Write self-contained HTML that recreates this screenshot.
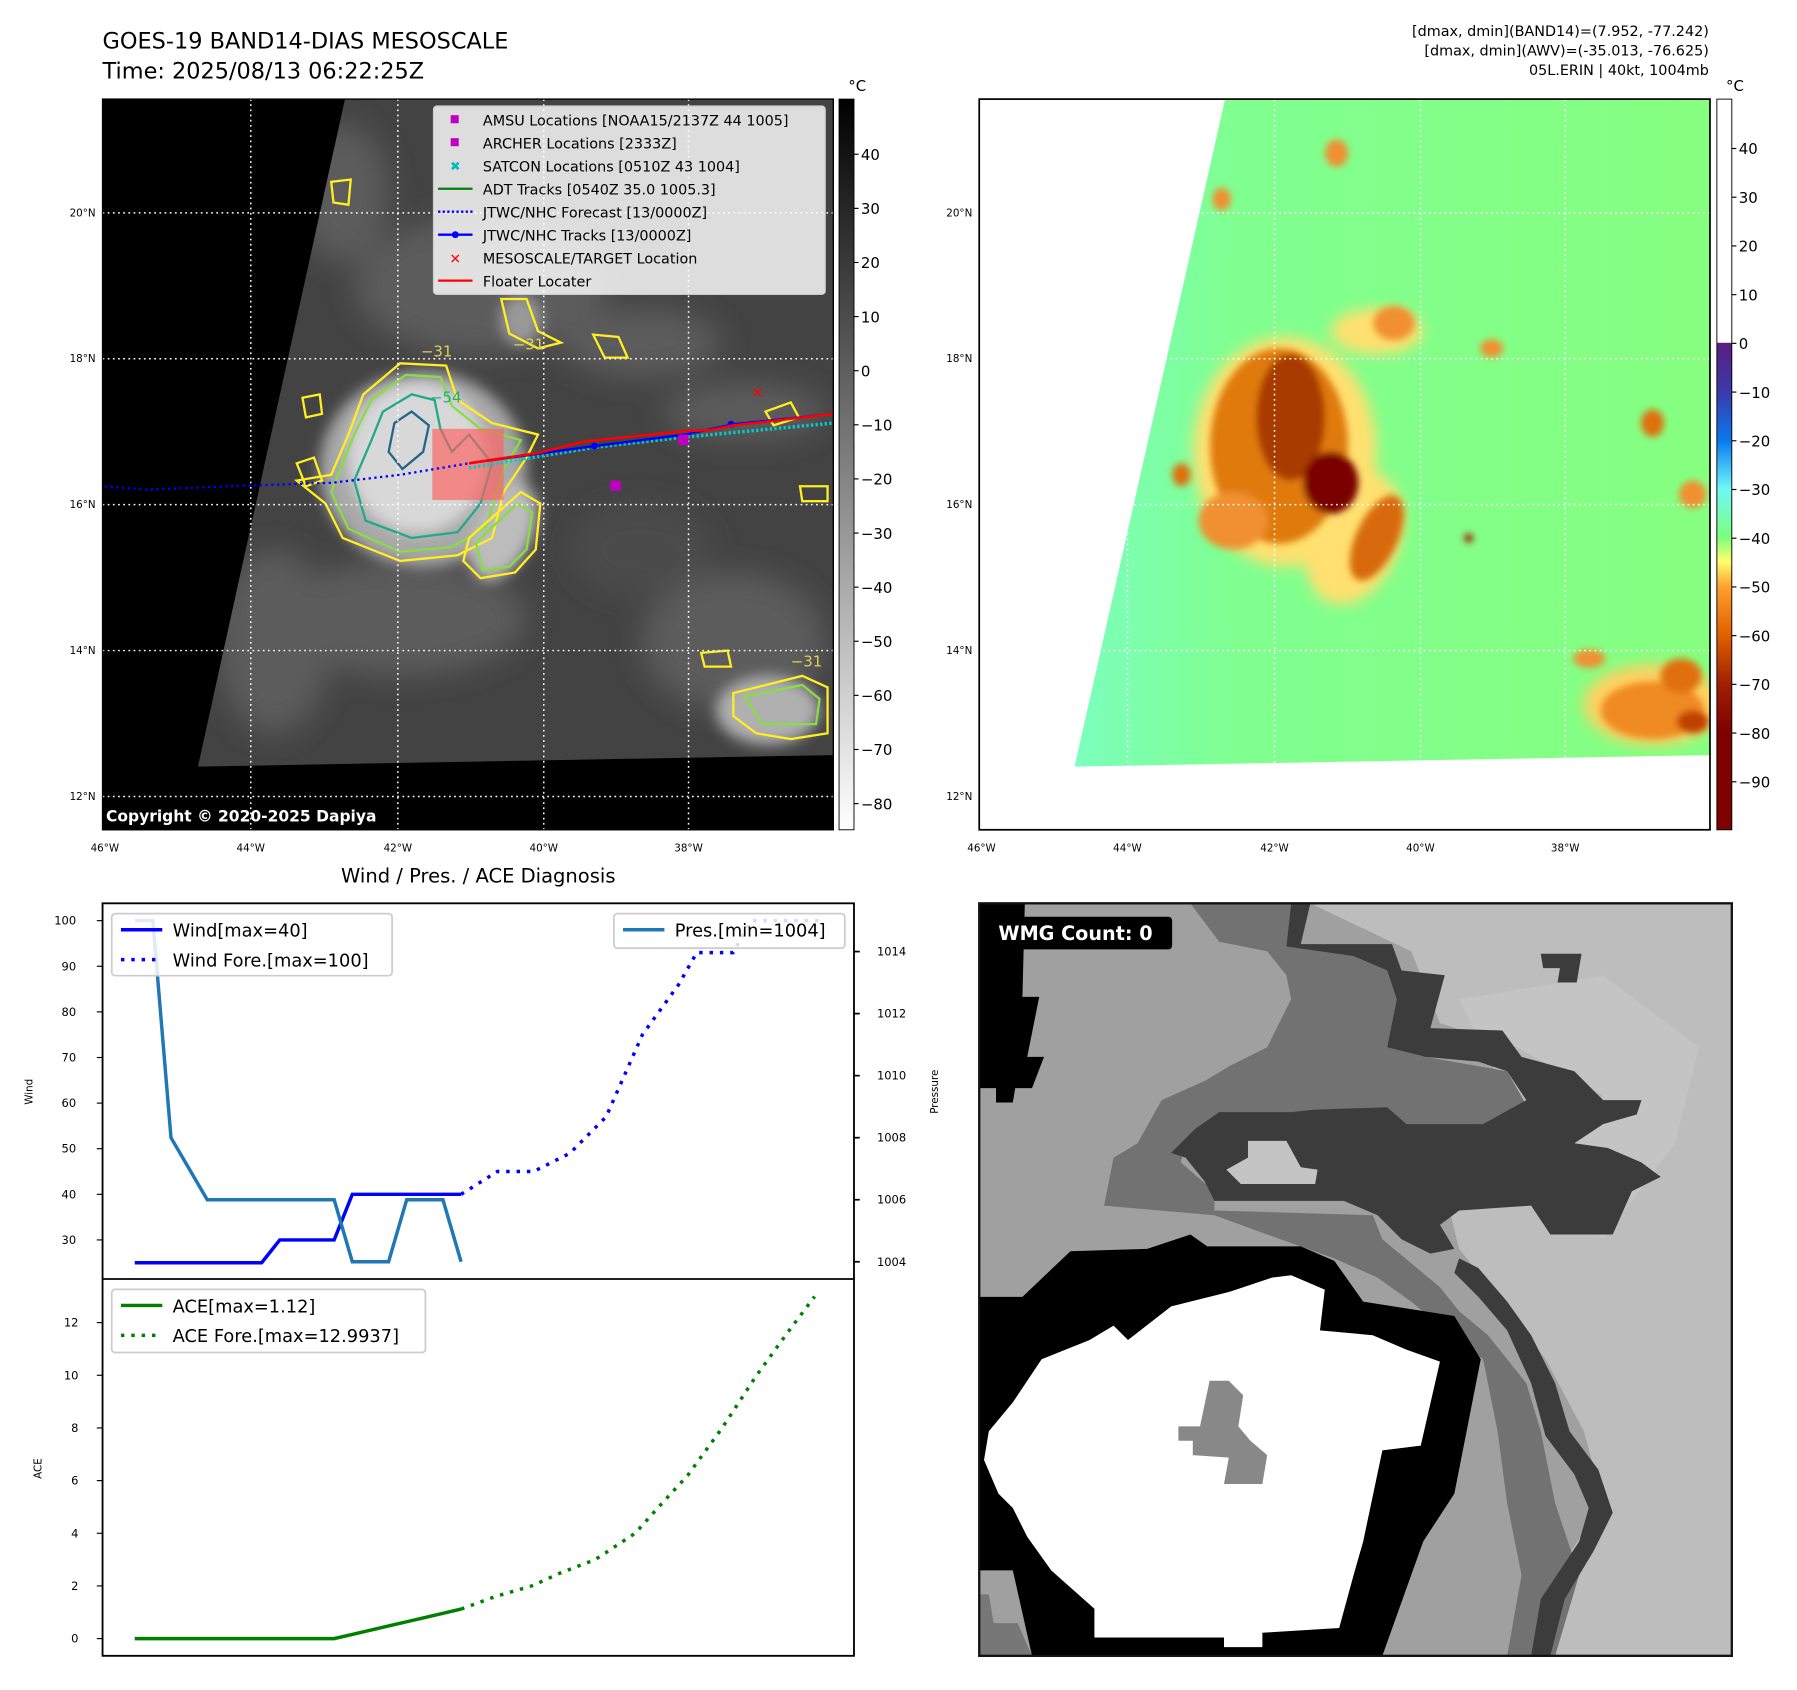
<!DOCTYPE html>
<html><head><meta charset="utf-8"><style>
html,body{margin:0;padding:0;background:#fff;}
svg{display:block;font-family:"DejaVu Sans","Liberation Sans",sans-serif;}
</style></head><body>
<svg id="fig" width="1797" height="1690" viewBox="1.74 1.74 1564 1471" preserveAspectRatio="none" xmlns="http://www.w3.org/2000/svg">
<defs>
<filter id="blur3"><feGaussianBlur stdDeviation="3"/></filter>
<filter id="blur6"><feGaussianBlur stdDeviation="6"/></filter>
<filter id="blur12"><feGaussianBlur stdDeviation="12"/></filter>
<linearGradient id="cb1" x1="0" y1="0" x2="0" y2="1"><stop offset="0" stop-color="#000"/><stop offset="1" stop-color="#fff"/></linearGradient>
<linearGradient id="cb2" x1="0" y1="0" x2="0" y2="1">
<stop offset="0" stop-color="#fff"/><stop offset="0.333" stop-color="#fff"/><stop offset="0.334" stop-color="#5a1e82"/>
<stop offset="0.40" stop-color="#3a3aa8"/><stop offset="0.467" stop-color="#0a78f0"/><stop offset="0.533" stop-color="#6ff8f8"/>
<stop offset="0.60" stop-color="#7cff7c"/><stop offset="0.633" stop-color="#ffff70"/><stop offset="0.667" stop-color="#ffa030"/>
<stop offset="0.733" stop-color="#e06000"/><stop offset="0.80" stop-color="#a02000"/><stop offset="0.867" stop-color="#800000"/><stop offset="1" stop-color="#800000"/></linearGradient>
<linearGradient id="seaR" x1="0" y1="0" x2="1" y2="0"><stop offset="0" stop-color="#78ffd8"/><stop offset="0.35" stop-color="#80ff90"/><stop offset="1" stop-color="#86ff80"/></linearGradient>
<clipPath id="clipL"><polygon points="302,88 174,669 727,659 727,88"/></clipPath>
<clipPath id="clipR"><polygon points="1068,88 937,669 1490,659 1490,88"/></clipPath>
<clipPath id="clipTop"><rect x="91" y="788" width="654" height="327"/></clipPath>
<clipPath id="clipBot"><rect x="91" y="1115" width="654" height="328"/></clipPath>
<clipPath id="clipBR"><rect x="854" y="788" width="655" height="655"/></clipPath>
</defs>

<!-- header -->
<text x="91" y="44" font-size="19.5">GOES-19 BAND14-DIAS MESOSCALE</text>
<text x="91" y="70" font-size="19.5">Time: 2025/08/13 06:22:25Z</text>
<g font-size="12.5" text-anchor="end">
<text x="1489" y="33">[dmax, dmin](BAND14)=(7.952, -77.242)</text>
<text x="1489" y="50">[dmax, dmin](AWV)=(-35.013, -76.625)</text>
<text x="1489" y="67">05L.ERIN | 40kt, 1004mb</text>
</g>

<!-- LEFT MAP -->
<g>
<rect x="91" y="88" width="636" height="636" fill="#000"/>
<g clip-path="url(#clipL)">
<rect x="91" y="88" width="636" height="636" fill="#434343"/>
<g filter="url(#blur12)" fill="#5c5c5c">
<ellipse cx="420" cy="250" rx="110" ry="60"/><ellipse cx="560" cy="300" rx="70" ry="30"/>
<ellipse cx="350" cy="540" rx="110" ry="50"/><ellipse cx="640" cy="560" rx="80" ry="60"/>
<ellipse cx="240" cy="560" rx="50" ry="80"/><ellipse cx="650" cy="360" rx="70" ry="25"/>
<ellipse cx="300" cy="170" rx="40" ry="60"/><ellipse cx="560" cy="480" rx="60" ry="40" fill="#4c4c4c"/>
</g>
<g filter="url(#blur6)">
<ellipse cx="370" cy="410" rx="90" ry="85" fill="#a8a8a8"/>
<ellipse cx="365" cy="400" rx="60" ry="65" fill="#d8d8d8"/>
<ellipse cx="440" cy="465" rx="25" ry="45" fill="#bcbcbc" transform="rotate(25 440 465)"/>
<ellipse cx="670" cy="620" rx="45" ry="30" fill="#b0b0b0"/>
<ellipse cx="455" cy="280" rx="18" ry="22" fill="#999"/>
</g>
<g fill="none" stroke-width="2">
<path d="M318,345 L350,318 L390,320 L400,350 L430,370 L470,380 L460,400 L440,430 L430,470 L400,485 L350,490 L300,470 L285,440 L260,420 L290,415 L305,380 Z" stroke="#ffee22"/>
<path d="M325,350 L355,328 L385,330 L395,355 L420,375 L455,385 L440,410 L425,460 L395,478 L350,482 L305,462 L290,430 L310,380 Z" stroke="#88dd44"/>
<path d="M335,360 L360,345 L380,350 L385,375 L395,395 L410,380 L430,405 L420,440 L400,465 L360,470 L320,455 L310,420 L325,385 Z" stroke="#22aa88"/>
<path d="M345,370 L360,360 L375,372 L370,395 L352,410 L340,395 Z" stroke="#226688"/>
<path d="M410,470 L455,430 L472,440 L468,480 L450,500 L420,505 L405,490 Z" stroke="#ffee22"/>
<path d="M416,474 L452,440 L465,448 L460,480 L445,495 L422,498 Z" stroke="#88dd44"/>
<path d="M438,262 L460,262 L470,290 L490,300 L470,305 L445,292 Z" stroke="#ffee22"/>
<path d="M518,293 L540,295 L548,313 L528,313 Z" stroke="#ffee22"/>
<path d="M612,570 L635,568 L638,582 L615,582 Z" stroke="#ffee22"/>
<path d="M640,605 L700,590 L722,600 L722,640 L690,645 L660,640 L640,625 Z" stroke="#ffee22"/>
<path d="M650,608 L700,598 L715,610 L712,632 L665,632 Z" stroke="#88dd44"/>
<path d="M698,425 L722,425 L722,438 L700,438 Z" stroke="#ffee22"/>
<path d="M668,360 L690,352 L697,365 L675,372 Z" stroke="#ffee22"/>
<path d="M265,348 L280,345 L282,362 L268,365 Z" stroke="#ffee22"/>
<path d="M260,405 L275,400 L282,420 L268,425 Z" stroke="#ffee22"/>
<path d="M290,160 L307,158 L305,180 L292,178 Z" stroke="#ffee22"/>
</g>
<g font-size="13" fill="#ddd05a"><text x="368" y="312">−31</text><text x="448" y="306">−31</text><text x="376" y="352" fill="#22aa88">−54</text><text x="690" y="582">−31</text></g>
<rect x="378" y="375" width="62" height="62" fill="#ff6060" fill-opacity="0.65"/>
</g>
<g stroke="#fff" stroke-width="1.3" stroke-dasharray="1.5,3">
<line x1="220" y1="88" x2="220" y2="724"/><line x1="348" y1="88" x2="348" y2="724"/><line x1="475" y1="88" x2="475" y2="724"/><line x1="601" y1="88" x2="601" y2="724"/>
<line x1="91" y1="187" x2="727" y2="187"/><line x1="91" y1="314" x2="727" y2="314"/><line x1="91" y1="441" x2="727" y2="441"/><line x1="91" y1="568" x2="727" y2="568"/><line x1="91" y1="695" x2="727" y2="695"/>
</g>
<polyline points="410,405 520,387 600,378 727,366" fill="none" stroke="#00cccc" stroke-width="3" stroke-dasharray="2,2" transform="translate(0,4)"/>
<polyline points="93,425 130,428 200,425 290,422 350,415 410,405" fill="none" stroke="#0000ff" stroke-width="2" stroke-dasharray="2,3"/>
<polyline points="410,405 519,390 598,380 640,371 727,362" fill="none" stroke="#0000ff" stroke-width="2"/>
<g fill="#0000ff"><circle cx="519" cy="390" r="3"/><circle cx="638" cy="371" r="3"/></g>
<polyline points="410,405 470,396 510,386 598,377 620,376 640,372 727,362" fill="none" stroke="#ff0000" stroke-width="2.2"/>
<g fill="#c000c0"><rect x="592" y="380" width="9" height="9"/><rect x="533" y="420" width="9" height="9"/></g>
<text x="661" y="348" fill="#ff0000" font-size="13" font-weight="bold" text-anchor="middle">✕</text>
<rect x="91" y="88" width="636" height="636" fill="none" stroke="#000" stroke-width="1.2"/>
<text x="94" y="717" fill="#fff" font-size="13.5" font-weight="bold">Copyright © 2020-2025 Dapiya</text>
</g>

<!-- legend left map -->
<g font-size="12.5">
<rect x="379" y="94" width="341" height="164" rx="3" fill="#fff" fill-opacity="0.82" stroke="#ccc"/>
<rect x="394" y="102" width="7" height="7" fill="#c000c0"/><text x="422" y="111">AMSU Locations [NOAA15/2137Z 44 1005]</text>
<rect x="394" y="122" width="7" height="7" fill="#c000c0"/><text x="422" y="131">ARCHER Locations [2333Z]</text>
<text x="398" y="150" font-size="11" fill="#00bbbb" text-anchor="middle">✖</text><text x="422" y="151">SATCON Locations [0510Z 43 1004]</text>
<line x1="383" y1="166" x2="413" y2="166" stroke="#008000" stroke-width="2"/><text x="422" y="171">ADT Tracks [0540Z 35.0 1005.3]</text>
<line x1="383" y1="186" x2="413" y2="186" stroke="#0000ff" stroke-width="2" stroke-dasharray="2,2"/><text x="422" y="191">JTWC/NHC Forecast [13/0000Z]</text>
<line x1="383" y1="206" x2="413" y2="206" stroke="#0000ff" stroke-width="2"/><circle cx="398" cy="206" r="3" fill="#0000ff"/><text x="422" y="211">JTWC/NHC Tracks [13/0000Z]</text>
<text x="398" y="231" font-size="12" fill="#f00" font-weight="bold" text-anchor="middle">✕</text><text x="422" y="231">MESOSCALE/TARGET Location</text>
<line x1="383" y1="246" x2="413" y2="246" stroke="#ff0000" stroke-width="2"/><text x="422" y="251">Floater Locater</text>
</g>

<!-- map axis labels -->
<g font-size="9" text-anchor="end">
<text x="85" y="190">20°N</text><text x="85" y="317">18°N</text><text x="85" y="444">16°N</text><text x="85" y="571">14°N</text><text x="85" y="698">12°N</text>
</g>
<g font-size="9" text-anchor="middle">
<text x="93" y="743">46°W</text><text x="220" y="743">44°W</text><text x="348" y="743">42°W</text><text x="475" y="743">40°W</text><text x="601" y="743">38°W</text>
</g>
<!-- colorbar 1 -->
<g>
<rect x="732" y="88" width="13" height="636" fill="url(#cb1)" stroke="#000" stroke-width="0.8"/>
<text x="740" y="81" font-size="13">°C</text>
<g id="cb1ticks" font-size="13"></g>
</g>

<!-- RIGHT MAP -->
<g>
<rect x="854" y="88" width="636" height="636" fill="#fff"/>
<g clip-path="url(#clipR)">
<rect x="854" y="88" width="636" height="636" fill="url(#seaR)"/>
<g filter="url(#blur6)">
<ellipse cx="1200" cy="290" rx="40" ry="20" fill="#ffe070"/>
<ellipse cx="1120" cy="395" rx="80" ry="100" fill="#ffe070"/>
<ellipse cx="1180" cy="470" rx="40" ry="60" fill="#ffe070" transform="rotate(20 1180 470)"/>
<ellipse cx="1440" cy="615" rx="60" ry="35" fill="#ffd060"/>
</g>
<g filter="url(#blur3)">
<ellipse cx="1115" cy="390" rx="60" ry="85" fill="#e07a10"/>
<ellipse cx="1075" cy="455" rx="30" ry="25" fill="#f09030"/>
<ellipse cx="1125" cy="365" rx="30" ry="55" fill="#a83a00"/>
<ellipse cx="1200" cy="470" rx="18" ry="40" fill="#d86a10" transform="rotate(25 1200 470)"/>
<ellipse cx="1160" cy="422" rx="24" ry="27" fill="#7a0000"/>
<ellipse cx="1215" cy="283" rx="18" ry="15" fill="#f09030"/>
<ellipse cx="1440" cy="620" rx="45" ry="25" fill="#f08a20"/>
<ellipse cx="1465" cy="590" rx="18" ry="15" fill="#e07010"/>
<ellipse cx="1475" cy="630" rx="14" ry="10" fill="#c04000"/>
<ellipse cx="1385" cy="575" rx="14" ry="8" fill="#f09030"/>
<ellipse cx="1440" cy="370" rx="10" ry="12" fill="#e07010"/>
<ellipse cx="1475" cy="432" rx="12" ry="12" fill="#f09030"/>
<ellipse cx="1030" cy="415" rx="8" ry="10" fill="#e07010"/>
<ellipse cx="1165" cy="135" rx="10" ry="12" fill="#f09030"/>
<ellipse cx="1065" cy="175" rx="8" ry="10" fill="#f09030"/>
<ellipse cx="1280" cy="470" rx="4" ry="4" fill="#a02000"/>
<ellipse cx="1300" cy="305" rx="10" ry="8" fill="#f09030"/>
</g>
</g>
<g stroke="#fff" stroke-width="1.3" stroke-dasharray="1.5,3">
<line x1="983" y1="88" x2="983" y2="724"/><line x1="1111" y1="88" x2="1111" y2="724"/><line x1="1238" y1="88" x2="1238" y2="724"/><line x1="1364" y1="88" x2="1364" y2="724"/>
<line x1="854" y1="187" x2="1490" y2="187"/><line x1="854" y1="314" x2="1490" y2="314"/><line x1="854" y1="441" x2="1490" y2="441"/><line x1="854" y1="568" x2="1490" y2="568"/><line x1="854" y1="695" x2="1490" y2="695"/>
</g>
<rect x="854" y="88" width="636" height="636" fill="none" stroke="#000" stroke-width="1.5"/>
</g>
<g font-size="9" text-anchor="end">
<text x="848" y="190">20°N</text><text x="848" y="317">18°N</text><text x="848" y="444">16°N</text><text x="848" y="571">14°N</text><text x="848" y="698">12°N</text>
</g>
<g font-size="9" text-anchor="middle">
<text x="856" y="743">46°W</text><text x="983" y="743">44°W</text><text x="1111" y="743">42°W</text><text x="1238" y="743">40°W</text><text x="1364" y="743">38°W</text>
</g>
<g>
<rect x="1496" y="88" width="13" height="636" fill="url(#cb2)" stroke="#000" stroke-width="0.8"/>
<text x="1504" y="81" font-size="13">°C</text>
<g id="cb2ticks" font-size="13"></g>
</g>

<!-- BOTTOM LEFT CHART -->
<text x="418" y="770" font-size="17" text-anchor="middle">Wind / Pres. / ACE Diagnosis</text>
<g id="chart"></g>

<!-- BOTTOM RIGHT PANEL -->
<g clip-path="url(#clipBR)">
<g transform="translate(854,788) scale(0.4177)">
<rect x="0" y="0" width="1568" height="1568" fill="#a0a0a0"/>
<polygon fill="#bdbdbd" points="690,0 1568,0 1568,1568 1140,1568 1200,1400 1300,1250 1260,1100 1180,950 1080,820 1000,720 980,640 1130,620 1240,500 1300,400 1120,300 960,250 900,100"/>
<polygon fill="#c8c8c8" points="1000,200 1300,150 1500,300 1450,500 1300,700 1200,600" opacity="0.6"/>
<polygon fill="#727272" points="440,0 650,0 640,90 780,110 850,140 870,200 850,300 930,320 1100,350 1140,420 1050,460 880,470 700,440 520,440 430,500 420,540 490,600 490,640 820,650 840,700 900,750 960,800 1000,850 1060,900 1140,1000 1170,1100 1200,1250 1250,1400 1200,1568 1100,1568 1130,1400 1100,1250 1080,1100 1050,950 960,880 900,830 830,780 740,740 600,690 490,650 260,630 280,530 330,500 380,410 470,370 520,340 600,300 650,200 640,150 600,100 500,80"/>
<polygon fill="#3c3c3c" points="650,0 690,0 670,85 860,85 880,140 970,150 940,260 1090,265 1130,320 1240,350 1300,410 1380,410 1370,440 1300,460 1240,500 1310,510 1380,540 1420,570 1360,600 1320,690 1190,690 1150,630 1000,640 960,670 990,720 940,730 880,700 830,650 760,620 490,620 470,580 430,530 400,520 450,470 500,435 650,435 700,430 850,425 890,460 1050,460 1140,410 1100,350 1040,330 930,320 850,300 870,200 850,140 780,110 640,90"/>
<polygon fill="#3c3c3c" points="1170,105 1255,105 1245,165 1205,165 1210,135 1175,135"/>
<polygon fill="#c4c4c4" points="560,495 640,495 670,550 705,555 700,585 545,585 515,555 560,530"/>
<polygon fill="#000" points="0,0 95,0 90,195 125,195 100,320 135,320 110,385 75,385 70,415 35,415 35,385 0,385"/>
<polygon fill="#3c3c3c" points="1000,740 1040,760 1100,830 1150,900 1200,1000 1230,1100 1290,1180 1320,1270 1280,1350 1220,1450 1190,1568 1150,1568 1170,1450 1250,1330 1270,1260 1240,1190 1180,1110 1150,1000 1100,890 1040,820 990,770"/>
<polygon fill="#000" points="0,820 90,820 190,725 350,720 440,690 475,715 670,715 740,745 800,830 990,860 1045,950 990,1230 925,1330 840,1568 110,1568 70,1390 0,1390"/>
<polygon fill="#fff" points="20,1100 70,1040 130,950 230,910 280,880 310,910 400,840 520,810 610,780 650,775 720,805 710,890 820,900 890,930 960,955 920,1130 840,1140 800,1330 780,1400 750,1510 590,1520 590,1550 510,1550 510,1530 240,1530 240,1470 150,1390 100,1320 70,1260 40,1230 10,1160"/>
<polygon fill="#888" points="480,995 520,995 550,1025 540,1090 565,1120 600,1150 590,1210 510,1210 520,1155 445,1150 445,1120 415,1120 415,1090 460,1090"/>
<polygon fill="#777" points="0,1440 20,1440 30,1500 80,1500 110,1568 0,1568"/>
<rect x="26" y="28" width="376" height="68" rx="8" fill="#000"/>
<text x="40" y="76" fill="#fff" font-size="40" font-weight="bold">WMG Count: 0</text>
</g>
</g>
<rect x="854" y="788" width="655" height="655" fill="none" stroke="#111" stroke-width="2"/>

<script>
// ---- chart data ----
const obsHours = [0,1,2,3,4,5,6,7,8,9,10,11,12,13,14,15,16,17,18];
const windObs = [25,25,25,25,25,25,25,25,30,30,30,30,40,40,40,40,40,40,40];
const presObs = [1015,1015,1008,1007,1006,1006,1006,1006,1006,1006,1006,1006,1004,1004,1004,1006,1006,1006,1004];
const aceObs = [0,0,0,0,0,0,0,0,0,0,0,0,0.16,0.32,0.48,0.64,0.8,0.96,1.12];
const foreHours = [18,20,22,24,26,28,30,31,33,34,38];
const windFore = [40,45,45,49,57,75,86,93,93,100,100];
const aceForeHours = [18,19.9,21.9,23.5,25.4,27.6,28.9,30.5,32.4,34.3,36.2,37.5];
const aceFore = [1.12,1.6,2.0,2.5,3.0,4.0,5.0,6.2,8.0,10.0,11.8,12.99];
const windTicks = [30,40,50,60,70,80,90,100];
const presTicks = [1004,1006,1008,1010,1012,1014];
const aceTicks = [0,2,4,6,8,10,12];
const cb1Ticks = [40,30,20,10,0,-10,-20,-30,-40,-50,-60,-70,-80];
const cb2Ticks = [40,30,20,10,0,-10,-20,-30,-40,-50,-60,-70,-80,-90];

const NS='http://www.w3.org/2000/svg';
function el(tag, attrs, parent){const e=document.createElementNS(NS,tag);for(const k in attrs)e.setAttribute(k,attrs[k]);parent.appendChild(e);return e;}
const xT = t => 119 + t*15.78;
const yW = w => 1081 - (w-30)*3.97;
const yP = p => 1100 - (p-1004)*27;
const yA = a => 1428 - a*22.92;
const chart=document.getElementById('chart');

const cb1=document.getElementById('cb1ticks');
cb1Ticks.forEach(v=>{const y=136+(40-v)*4.71;
 el('line',{x1:745,y1:y,x2:749,y2:y,stroke:'#000'},cb1);
 const t=el('text',{x:751,y:y+5},cb1);t.textContent=(v<0?'−'+(-v):v);
 
 });
const cb2=document.getElementById('cb2ticks');
cb2Ticks.forEach(v=>{const y=131+(40-v)*4.24;
 el('line',{x1:1509,y1:y,x2:1513,y2:y,stroke:'#000'},cb2);
 const t=el('text',{x:1515,y:y+5},cb2);t.textContent=(v<0?'−'+(-v):v);
 
 });

function pts(xs,ys,fx,fy){return xs.map((x,i)=>fx(x)+','+fy(ys[i])).join(' ');}

const gT=el('g',{'clip-path':'url(#clipTop)'},chart);
const wl=el('polyline',{points:pts(obsHours,windObs,xT,yW),fill:'none',stroke:'#0000ff','stroke-width':3},gT);


const wf=el('polyline',{points:pts(foreHours,windFore,xT,yW),fill:'none',stroke:'#0000ff','stroke-width':3,'stroke-dasharray':'3,6'},gT);


const pl=el('polyline',{points:pts(obsHours,presObs,xT,yP),fill:'none',stroke:'#1f77b4','stroke-width':3},gT);


const gB=el('g',{'clip-path':'url(#clipBot)'},chart);
const al=el('polyline',{points:pts(obsHours,aceObs,xT,yA),fill:'none',stroke:'#008000','stroke-width':3},gB);


const af=el('polyline',{points:pts(aceForeHours,aceFore,xT,yA),fill:'none',stroke:'#008000','stroke-width':3,'stroke-dasharray':'3,6'},gB);



el('rect',{x:91,y:788,width:654,height:655,fill:'none',stroke:'#000','stroke-width':1.6},chart);
el('line',{x1:91,y1:1115,x2:745,y2:1115,stroke:'#000','stroke-width':1.6},chart);
windTicks.forEach(v=>{const y=yW(v);el('line',{x1:86,y1:y,x2:91,y2:y,stroke:'#000'},chart);
 const t=el('text',{x:68,y:y+3.5,'font-size':10,'text-anchor':'end'},chart);t.textContent=v;
 
 });
presTicks.forEach(v=>{const y=yP(v);el('line',{x1:745,y1:y,x2:750,y2:y,stroke:'#000','stroke-width':1.5},chart);
 const t=el('text',{x:765,y:y+3.5,'font-size':10},chart);t.textContent=v;
 
 });
aceTicks.forEach(v=>{const y=yA(v);el('line',{x1:86,y1:y,x2:91,y2:y,stroke:'#000'},chart);
 const t=el('text',{x:70,y:y+3.5,'font-size':10,'text-anchor':'end'},chart);t.textContent=v;
 
 });
const yl1=el('text',{x:0,y:0,'font-size':9,transform:'translate(30,952) rotate(-90)','text-anchor':'middle'},chart);yl1.textContent='Wind';


const yl2=el('text',{x:0,y:0,'font-size':9,transform:'translate(818,952) rotate(-90)','text-anchor':'middle'},chart);yl2.textContent='Pressure';


const yl3=el('text',{x:0,y:0,'font-size':9,transform:'translate(38,1280) rotate(-90)','text-anchor':'middle'},chart);yl3.textContent='ACE';



function legend(x,y,w,h,items,name){
 const g=el('g',{},chart);
 
 
 el('rect',{x:x,y:y,width:w,height:h,rx:3,fill:'#fff','fill-opacity':0.85,stroke:'#ccc','stroke-width':1.5},g);
 items.forEach((it,i)=>{const cy=y+14+i*26;
  const a={x1:x+8,y1:cy,x2:x+44,y2:cy,stroke:it.c,'stroke-width':3};if(it.d)a['stroke-dasharray']='3,6';
  el('line',a,g);const t=el('text',{x:x+53,y:cy+6,'font-size':15.5},g);t.textContent=it.t;});
}
legend(99,797,244,54,[{c:'#0000ff',t:'Wind[max=40]'},{c:'#0000ff',d:1,t:'Wind Fore.[max=100]'}],'wind-legend');
legend(536,797,201,30,[{c:'#1f77b4',t:'Pres.[min=1004]'}],'pressure-legend');
legend(99,1124,273,55,[{c:'#008000',t:'ACE[max=1.12]'},{c:'#008000',d:1,t:'ACE Fore.[max=12.9937]'}],'ace-legend');
</script>
</svg>
</body></html>
